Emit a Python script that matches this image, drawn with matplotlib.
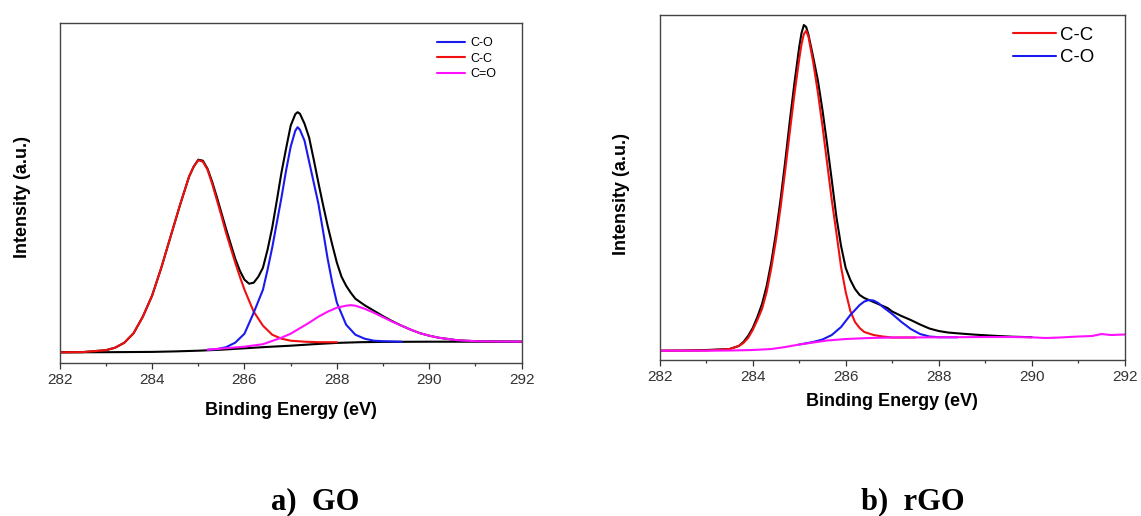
import matplotlib
matplotlib.use("Agg")
import matplotlib.pyplot as plt
from matplotlib.ticker import MultipleLocator

plt.rcParams['font.family'] = ['Liberation Sans', 'DejaVu Sans']

# ---- GO (panel a), intensity in arbitrary units ----
go_env_x = [282.0, 282.5, 283.0, 283.2, 283.4, 283.6, 283.8, 284.0, 284.2, 284.4,
            284.6, 284.8, 284.9, 285.0, 285.1, 285.2, 285.3, 285.4, 285.5, 285.6,
            285.7, 285.8, 285.9, 286.0, 286.1, 286.2, 286.3, 286.4, 286.5, 286.6,
            286.7, 286.8, 286.9, 287.0, 287.1, 287.15, 287.2, 287.3, 287.4, 287.5,
            287.6, 287.7, 287.8, 287.9, 288.0, 288.1, 288.2, 288.3, 288.4, 288.6,
            288.8, 289.0, 289.2, 289.4, 289.6, 289.8, 290.0, 290.2, 290.6, 291.0,
            291.4, 292.0]
go_env_y = [10.4, 10.6, 12.5, 15, 20, 29.5, 46, 67, 95, 126,
            157, 186, 196, 203, 202, 194, 181, 166, 150, 134,
            119, 104, 92, 83, 79, 80, 86, 95, 113, 135,
            162, 190, 214, 237, 248.5, 250.5, 249, 239, 225, 203,
            180, 158, 137, 118, 100, 86, 77, 70, 64, 57.5,
            52, 46.5, 41.5, 37, 33, 29.5, 27, 25, 22.5, 21.5,
            21.2, 21]

go_base_x = [282, 283, 284, 284.5, 285, 285.5, 286, 286.5, 287, 287.5, 288, 288.5, 289, 290, 291, 292]
go_base_y = [10.4, 10.5, 10.8, 11.3, 12, 13, 14.4, 15.8, 17, 18.5, 19.8, 20.5, 20.8, 21, 21, 21]

go_cc_x = [282.0, 282.5, 283.0, 283.2, 283.4, 283.6, 283.8, 284.0, 284.2, 284.4,
           284.6, 284.8, 284.9, 285.0, 285.1, 285.2, 285.3, 285.4, 285.5, 285.6,
           285.7, 285.8, 285.9, 286.0, 286.2, 286.4, 286.6, 286.8, 287.0, 287.3,
           287.6, 288.0]
go_cc_y = [10.4, 10.6, 12.5, 15, 20, 29.5, 46, 67, 95, 126,
           157, 186, 196, 202.5, 201, 193, 179, 163, 147, 130,
           115, 100, 86, 73, 51, 37, 28, 24, 22, 21,
           20.5, 20.5]

go_co_x = [285.2, 285.4, 285.6, 285.8, 286.0, 286.2, 286.4, 286.5, 286.6, 286.7,
           286.8, 286.9, 287.0, 287.1, 287.15, 287.2, 287.3, 287.4, 287.5, 287.6,
           287.7, 287.8, 287.9, 288.0, 288.2, 288.4, 288.6, 288.8, 289.0, 289.4]
go_co_y = [13, 13.5, 15.5, 20, 29, 50, 73, 93, 115, 140,
           165, 192, 216, 232, 235.5, 233, 222, 201, 180, 159,
           132, 104, 80, 60, 38, 28, 24, 22, 21.5, 21]

go_cdo_x = [285.2, 285.6, 286.0, 286.4, 286.8, 287.0, 287.2, 287.4, 287.6, 287.8,
            288.0, 288.2, 288.3, 288.4, 288.6, 288.8, 289.0, 289.2, 289.4, 289.6,
            289.8, 290.0, 290.2, 290.6, 291.0, 291.4, 292.0]
go_cdo_y = [13, 14.5, 16, 18.5, 25, 29, 34.5, 40, 46, 51,
            55, 57, 57.5, 57, 54, 50, 45.5, 41, 37, 33,
            29.5, 27, 25, 22.5, 21.5, 21.2, 21]

# ---- rGO (panel b) ----
rgo_env_x = [282.0, 282.5, 283.0, 283.5, 283.7, 283.8, 283.9, 284.0, 284.1, 284.2,
             284.3, 284.4, 284.5, 284.6, 284.7, 284.8, 284.9, 285.0, 285.05, 285.1,
             285.15, 285.2, 285.3, 285.4, 285.5, 285.6, 285.7, 285.8, 285.9, 286.0,
             286.1, 286.2, 286.3, 286.4, 286.5, 286.6, 286.7, 286.8, 286.9, 287.0,
             287.2, 287.4, 287.6, 287.8, 288.0, 288.2, 288.4, 288.8, 289.2, 289.6,
             290.0]
rgo_env_y = [9.3, 9.5, 10, 11, 14, 18, 24, 32, 43, 56,
             74, 98, 127, 161, 199, 240, 278, 313, 327, 335,
             333, 325, 303, 280, 250, 216, 180, 143, 114, 92,
             80, 71, 65, 62, 60, 58, 56, 54, 52, 48.5,
             44, 40, 35.5, 31.5, 29, 27.5, 26.7, 25.3, 24.2, 23.3,
             22.8]

rgo_cc_x = [282.0, 283.0, 283.5, 283.7, 283.8, 283.9, 284.0, 284.1, 284.2, 284.3,
            284.4, 284.5, 284.6, 284.7, 284.8, 284.9, 285.0, 285.05, 285.1, 285.15,
            285.2, 285.3, 285.4, 285.5, 285.6, 285.7, 285.8, 285.9, 286.0, 286.1,
            286.2, 286.3, 286.4, 286.6, 286.8, 287.0, 287.5]
rgo_cc_y = [9.3, 9.5, 11, 14, 17, 22, 30, 40, 51, 68,
            92, 120, 153, 190, 229, 267, 301, 316, 326, 329.3,
            323, 298, 268, 234, 197, 160, 127, 93, 68, 49,
            38, 32, 28, 25, 23.5, 22.5, 22.5]

rgo_co_x = [285.0, 285.3, 285.5, 285.7, 285.9, 286.1, 286.3, 286.4, 286.5, 286.6,
            286.7, 286.8, 287.0, 287.2, 287.4, 287.6, 287.8, 288.0, 288.4]
rgo_co_y = [15.5, 18, 20.5, 25, 33, 45, 55, 58.5, 60, 59.5,
            57, 53, 46, 38, 31, 26, 23.5, 22.8, 22.7]

rgo_base_x = [282, 283, 283.5, 284, 284.4, 284.7, 285.0, 285.3, 285.6, 286.0,
              286.5, 287.0, 288.0, 289.0, 289.5, 290.0, 290.3, 290.6, 291.0, 291.3,
              291.5, 291.7, 292.0]
rgo_base_y = [9.3, 9.3, 9.5, 10, 11, 13, 15.5, 17.5, 19.5, 21,
              22, 22.5, 22.7, 23, 23, 22.7, 22, 22.5, 23.5, 24,
              26, 25, 25.5]

RED = '#f01010'
BLUE = '#1a1af0'
MAGENTA = '#ff10ff'
LW = 1.5
line_kw = dict(lw=LW, solid_joinstyle='round', solid_capstyle='round')


def style_axes(ax, ymax):
    ax.set_xlim(282, 292)
    ax.set_ylim(0, ymax)
    ax.xaxis.set_major_locator(MultipleLocator(2))
    ax.xaxis.set_minor_locator(MultipleLocator(1))
    ax.set_yticks([])
    ax.tick_params(axis='x', which='major', direction='out', length=4.5, width=0.9,
                   color='#333333', labelcolor='#333333', labelsize=11, pad=3)
    ax.tick_params(axis='x', which='minor', direction='out', length=2.5, width=0.9,
                   color='#333333')
    for s in ax.spines.values():
        s.set_color('#444444')
        s.set_linewidth(1.0)
    ax.set_xlabel('Binding Energy (eV)', fontsize=13, fontweight='bold')
    ax.set_ylabel('Intensity (a.u.)', fontsize=13, fontweight='bold')


fig = plt.figure(figsize=(11.41, 5.16), dpi=100)

# panel a: GO
ax1 = fig.add_axes([0.0523, 0.2971, 0.4049, 0.6589])
ax1.plot(go_env_x, go_env_y, color='black', **line_kw)
ax1.plot(go_base_x, go_base_y, color='black', **line_kw)
ax1.plot(go_cc_x, go_cc_y, color=RED, label='C-C', **line_kw)
ax1.plot(go_co_x, go_co_y, color=BLUE, label='C-O', **line_kw)
ax1.plot(go_cdo_x, go_cdo_y, color=MAGENTA, label='C=O', **line_kw)
style_axes(ax1, 340)
ax1.xaxis.set_label_coords(0.5, -0.116)
ax1.yaxis.set_label_coords(-0.061, 0.487)
h, l = ax1.get_legend_handles_labels()
order = [1, 0, 2]
ax1.legend([h[i] for i in order], [l[i] for i in order], loc='upper right',
           bbox_to_anchor=(0.945, 0.958), frameon=False, fontsize=9,
           handlelength=2.3, handletextpad=0.4, labelspacing=0.3,
           borderpad=0, borderaxespad=0)

# panel b: rGO
ax2 = fig.add_axes([0.5782, 0.3023, 0.4075, 0.6686])
ax2.plot(rgo_env_x, rgo_env_y, color='black', **line_kw)
ax2.plot(rgo_cc_x, rgo_cc_y, color=RED, label='C-C', **line_kw)
ax2.plot(rgo_co_x, rgo_co_y, color=BLUE, label='C-O', **line_kw)
ax2.plot(rgo_base_x, rgo_base_y, color=MAGENTA, **line_kw)
style_axes(ax2, 345)
ax2.xaxis.set_label_coords(0.5, -0.096)
ax2.yaxis.set_label_coords(-0.063, 0.48)
ax2.legend(loc='upper right', bbox_to_anchor=(0.935, 0.966), frameon=False,
           fontsize=13.4, handlelength=2.3, handletextpad=0.25, labelspacing=0.3,
           borderpad=0, borderaxespad=0)

# captions
fig.text(315 / 1141, 0.027, 'a)  GO', ha='center', va='center', fontsize=22,
         fontweight='bold', family=['Liberation Serif', 'DejaVu Serif'])
fig.text(913 / 1141, 0.027, 'b)  rGO', ha='center', va='center', fontsize=22,
         fontweight='bold', family=['Liberation Serif', 'DejaVu Serif'])

fig.savefig('out.png', dpi=100)
